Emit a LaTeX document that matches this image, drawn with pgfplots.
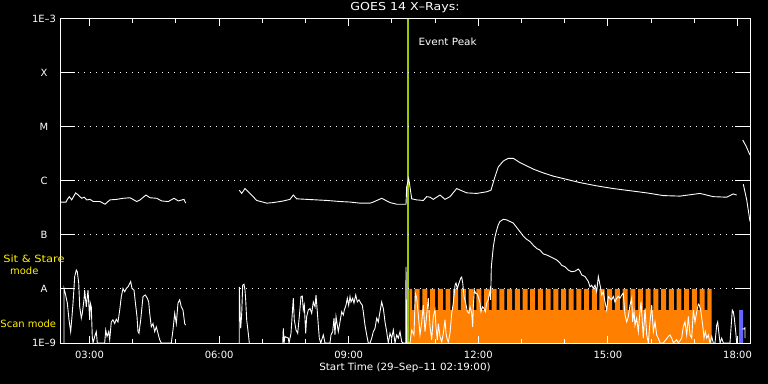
\documentclass[border=0pt]{standalone}
\usepackage{fontspec}
\setmainfont{DejaVu Sans}
\usepackage{pgfplots}
\pgfplotsset{compat=1.18}
\definecolor{scanorange}{RGB}{255,128,0}
\definecolor{peakgreen}{RGB}{153,204,0}
\definecolor{sitblue}{RGB}{102,102,255}
\begin{document}
\begin{tikzpicture}
\fill[black] (0,0) rectangle (768bp,384bp);
\begin{axis}[
 at={(60bp,41bp)}, anchor=south west,
 scale only axis, width=690bp, height=324bp,
 xmin=2.3167, xmax=18.289, ymin=-9, ymax=-3,
 no markers,
 axis on top,
 axis line style={white, line width=1bp},
 tick style={white, line width=1bp},
 major tick length=6.7bp, minor tick length=3.7bp,
 tick align=inside,
 xtick={3,6,9,12,15,18},
 xticklabels={03:00,06:00,09:00,12:00,15:00,18:00},
 minor xtick={4,5,7,8,10,11,13,14,16,17},
 ytick={-9,-8,-7,-6,-5,-4,-3},
 yticklabels={1E–9,A,B,C,M,X,1E–3},
 ymajorgrids,
 grid style={white, line width=1bp, dash pattern=on 1bp off 5bp},
 tick label style={white, font=\fontsize{10}{12}\selectfont},
 xticklabel style={yshift=-5bp},
 yticklabel style={anchor=center, xshift=-16bp},
 title={GOES 14 X–Rays:},
 title style={white, at={(axis description cs:0.5,1)}, anchor=center, yshift=5bp, font=\fontsize{11}{13}\selectfont\addfontfeature{FakeStretch=1.15}},
 xlabel={Start Time (29–Sep–11 02:19:00)},
 xlabel style={white, at={(axis description cs:0.5,0)}, anchor=center, yshift=-25bp, font=\fontsize{10}{12}\selectfont\addfontfeature{FakeStretch=1.04}},
]
% scan mode bars
\addplot[fill=scanorange, draw=none, const plot] coordinates {
(10.402,-9) (10.402,-8)
(10.465,-8.39) (10.528,-8) (10.643,-8.39) (10.706,-8) (10.821,-8.39) (10.884,-8)
(11.000,-8.39) (11.062,-8) (11.178,-8.39) (11.241,-8) (11.356,-8.39) (11.419,-8)
(11.534,-8.39) (11.597,-8) (11.713,-8.39) (11.775,-8) (11.891,-8.39) (11.953,-8)
(12.069,-8.39) (12.132,-8) (12.247,-8.39) (12.310,-8) (12.426,-8.39) (12.488,-8)
(12.604,-8.39) (12.666,-8) (12.782,-8.39) (12.845,-8) (12.960,-8.39) (13.023,-8)
(13.139,-8.39) (13.201,-8) (13.317,-8.39) (13.379,-8) (13.495,-8.39) (13.558,-8)
(13.673,-8.39) (13.736,-8) (13.852,-8.39) (13.914,-8) (14.030,-8.39) (14.093,-8)
(14.208,-8.39) (14.271,-8) (14.386,-8.39) (14.449,-8) (14.565,-8.39) (14.627,-8)
(14.743,-8.39) (14.805,-8) (14.921,-8.39) (14.984,-8) (15.099,-8.39) (15.162,-8)
(15.277,-8.39) (15.340,-8) (15.456,-8.39) (15.518,-8) (15.634,-8.39) (15.697,-8)
(15.812,-8.39) (15.875,-8) (15.990,-8.39) (16.053,-8) (16.169,-8.39) (16.231,-8)
(16.347,-8.39) (16.409,-8) (16.525,-8.39) (16.588,-8) (16.703,-8.39) (16.766,-8)
(16.882,-8.39) (16.944,-8) (17.060,-8.39) (17.122,-8) (17.238,-8.39) (17.301,-8)
(17.402,-9)};
% sit and stare bar
\addplot[fill=sitblue, draw=none, const plot] coordinates {(18.035,-9) (18.035,-8.39) (18.127,-9)};
% event peak line
\addplot[peakgreen, line width=2.3bp] coordinates {(10.365,-9) (10.365,-3)};
% long channel
\addplot[white, line width=0.9bp] coordinates {
(2.333,-6.39) (2.456,-6.39) (2.486,-6.34) (2.532,-6.29) (2.587,-6.35) (2.680,-6.22) (2.740,-6.26) (2.819,-6.32) (2.879,-6.30) (2.935,-6.35) (3.011,-6.34) (3.088,-6.38) (3.243,-6.38) (3.358,-6.43) (3.474,-6.35) (3.629,-6.34) (3.782,-6.32) (3.937,-6.31) (4.092,-6.38) (4.169,-6.35) (4.307,-6.26) (4.400,-6.31) (4.555,-6.32) (4.671,-6.37) (4.824,-6.38) (4.956,-6.32) (5.055,-6.37) (5.187,-6.34) (5.226,-6.41)};
\addplot[white, line width=0.9bp] coordinates {
(6.467,-6.17) (6.523,-6.23) (6.599,-6.14) (6.715,-6.23) (6.870,-6.36) (7.101,-6.41) (7.254,-6.40) (7.486,-6.37) (7.641,-6.34) (7.717,-6.26) (7.796,-6.33) (8.027,-6.34) (8.259,-6.35) (8.490,-6.36) (8.798,-6.38) (9.030,-6.39) (9.261,-6.41) (9.493,-6.41) (9.569,-6.39) (9.763,-6.32) (9.956,-6.40) (10.111,-6.43) (10.326,-6.43) (10.342,-6.11) (10.389,-5.95) (10.458,-6.33) (10.574,-6.35) (10.727,-6.36) (10.805,-6.29) (10.882,-6.30) (10.958,-6.34) (11.113,-6.26) (11.229,-6.34) (11.345,-6.29) (11.499,-6.14) (11.615,-6.18) (11.731,-6.22) (11.962,-6.23) (12.194,-6.20) (12.293,-6.17) (12.386,-5.92) (12.462,-5.74) (12.578,-5.63) (12.694,-5.58) (12.810,-5.58) (12.965,-5.66) (13.120,-5.72) (13.273,-5.78) (13.504,-5.85) (13.736,-5.91) (14.046,-5.97) (14.354,-6.03) (14.740,-6.09) (15.125,-6.14) (15.511,-6.18) (15.898,-6.22) (16.282,-6.27) (16.668,-6.28) (17.131,-6.23) (17.439,-6.29) (17.749,-6.30) (17.902,-6.24) (17.981,-6.26)};
\addplot[white, line width=0.9bp] coordinates {(18.120,-5.24) (18.196,-5.35) (18.289,-5.52)};
\addplot[white, line width=0.9bp] coordinates {(18.134,-6.06) (18.213,-6.35) (18.289,-6.75)};
% short channel
\addplot[white, line width=0.9bp] coordinates {
(2.409,-9) (2.409,-7.99) (2.439,-8.08) (2.486,-8.26) (2.525,-8.57) (2.564,-8.79) (2.594,-8.51) (2.618,-8.26) (2.657,-7.77) (2.694,-7.65) (2.717,-7.68) (2.750,-7.89) (2.773,-8.33) (2.810,-8.54) (2.833,-8.45) (2.872,-8.20) (2.888,-8.02) (2.925,-8.33) (2.965,-8.02) (3.004,-8.57) (3.018,-8.26) (3.041,-8.33) (3.064,-8.88) (3.081,-9) (3.120,-8.88) (3.157,-8.79) (3.180,-9) (3.351,-9) (3.375,-8.76) (3.405,-8.88) (3.444,-8.79) (3.467,-8.94) (3.504,-8.61) (3.543,-8.57) (3.583,-8.64) (3.620,-8.56) (3.659,-8.61) (3.699,-8.39) (3.736,-8.14) (3.775,-7.99) (3.814,-8.05) (3.851,-7.99) (3.891,-7.96) (3.953,-7.86) (3.983,-7.99) (4.030,-8.02) (4.060,-8.24) (4.099,-8.51) (4.122,-8.79) (4.145,-8.82) (4.185,-8.57) (4.238,-8.14) (4.291,-8.11) (4.337,-8.17) (4.370,-8.24) (4.393,-8.45) (4.430,-8.70) (4.469,-8.64) (4.509,-8.79) (4.546,-8.70) (4.585,-8.82) (4.624,-8.94) (4.662,-9) (4.893,-9) (4.932,-8.76) (4.972,-8.45) (5.009,-8.64) (5.048,-8.26) (5.087,-8.20) (5.124,-8.33) (5.164,-8.39) (5.203,-8.64) (5.222,-8.67)};
\addplot[white, line width=0.9bp] coordinates {
(6.467,-9) (6.467,-7.96) (6.483,-8.39) (6.500,-8.73) (6.523,-8.45) (6.546,-7.93) (6.576,-7.91) (6.599,-8.02) (6.615,-8.20) (6.638,-8.57) (6.675,-8.82) (6.699,-9)};
\addplot[white, line width=0.9bp] coordinates {
(7.472,-9) (7.486,-8.73) (7.502,-9) (7.525,-8.88) (7.602,-8.91) (7.618,-9) (7.664,-8.82) (7.694,-8.45) (7.717,-8.17) (7.740,-8.57) (7.780,-8.76) (7.819,-8.82) (7.856,-8.51) (7.895,-8.14) (7.925,-8.13) (7.949,-8.39) (7.972,-8.30) (8.004,-8.82) (8.027,-8.51) (8.064,-8.39) (8.104,-8.36) (8.143,-8.45) (8.180,-8.24) (8.220,-8.33) (8.243,-8.11) (8.273,-8.42) (8.296,-8.67) (8.319,-8.91) (8.352,-9) (8.412,-8.85) (8.451,-9) (8.567,-9) (8.590,-8.85) (8.629,-8.79) (8.659,-8.54) (8.682,-8.85) (8.706,-8.51) (8.736,-8.67) (8.759,-8.79) (8.798,-8.61) (8.837,-8.42) (8.875,-8.48) (8.898,-8.39) (8.937,-8.30) (8.967,-8.17) (8.999,-8.30) (9.030,-8.14) (9.053,-8.24) (9.092,-8.17) (9.122,-8.26) (9.162,-8.11) (9.199,-8.24) (9.238,-8.20) (9.277,-8.26) (9.314,-8.30) (9.337,-8.42) (9.377,-8.67) (9.416,-8.85) (9.453,-9) (9.493,-9) (9.532,-8.91) (9.569,-8.79) (9.608,-8.73) (9.648,-8.54) (9.685,-8.61) (9.724,-8.42) (9.763,-8.24) (9.801,-8.36) (9.840,-8.61) (9.879,-8.79) (9.916,-9) (9.956,-8.82) (9.995,-8.91) (10.032,-8.76) (10.071,-9) (10.111,-8.85) (10.148,-8.91) (10.187,-8.79) (10.227,-8.98) (10.264,-9) (10.319,-9) (10.326,-7.59) (10.342,-9) (10.418,-9) (10.458,-8.76) (10.511,-8.85) (10.541,-8.08) (10.574,-8.17) (10.611,-8.48) (10.650,-8.85) (10.690,-8.61) (10.727,-8.30) (10.766,-8.79) (10.805,-8.48) (10.842,-8.17) (10.882,-8.70) (10.921,-8.94) (10.958,-8.51) (10.997,-8.39) (11.020,-8.70) (11.051,-8.94) (11.074,-8.64) (11.113,-8.88) (11.153,-8.98) (11.190,-8.82) (11.229,-8.57) (11.252,-8.82) (11.282,-8.94) (11.305,-8.98) (11.345,-8.82) (11.384,-8.45) (11.421,-8.26) (11.461,-7.93) (11.484,-7.89) (11.514,-7.99) (11.553,-7.89) (11.592,-7.80) (11.615,-7.78) (11.639,-7.89) (11.669,-8.14) (11.708,-8.26) (11.745,-8.42) (11.785,-8.45) (11.808,-8.33) (11.847,-8.45) (11.870,-8.70) (11.884,-8.33) (11.907,-8.02) (11.939,-8.08) (11.962,-8.08) (11.999,-8.14) (12.039,-8.26) (12.062,-8.42) (12.101,-8.33) (12.131,-8.36) (12.162,-8.42) (12.194,-8.26) (12.231,-8.20) (12.270,-8.02) (12.286,-8.20) (12.301,-7.59) (12.317,-7.46) (12.347,-7.22) (12.386,-7.03) (12.425,-6.91) (12.462,-6.81) (12.502,-6.75) (12.578,-6.71) (12.657,-6.72) (12.733,-6.75) (12.810,-6.78) (12.888,-6.86) (12.965,-6.94) (13.041,-7.02) (13.120,-7.08) (13.196,-7.12) (13.273,-7.19) (13.352,-7.25) (13.428,-7.28) (13.504,-7.35) (13.583,-7.37) (13.659,-7.40) (13.736,-7.43) (13.814,-7.46) (13.891,-7.52) (13.930,-7.56) (14.007,-7.59) (14.083,-7.65) (14.162,-7.68) (14.238,-7.67) (14.315,-7.63) (14.354,-7.67) (14.393,-7.74) (14.470,-7.77) (14.546,-7.86) (14.585,-7.96) (14.625,-7.93) (14.662,-7.99) (14.701,-7.93) (14.740,-8.05) (14.778,-7.77) (14.801,-7.86) (14.833,-7.99) (14.856,-8.11) (14.893,-8.05) (14.932,-8.24) (14.972,-8.39) (15.009,-8.14) (15.048,-8.17) (15.087,-8.20) (15.125,-8.14) (15.164,-8.24) (15.203,-8.17) (15.240,-8.14) (15.280,-8.17) (15.319,-8.11) (15.356,-8.08) (15.396,-8.48) (15.435,-8.61) (15.472,-8.51) (15.511,-8.30) (15.550,-8.17) (15.573,-8.61) (15.604,-8.42) (15.627,-8.67) (15.666,-8.54) (15.703,-8.79) (15.743,-8.42) (15.766,-8.24) (15.796,-8.61) (15.819,-8.91) (15.859,-8.36) (15.898,-8.85) (15.935,-9) (15.974,-8.61) (16.014,-8.30) (16.051,-8.79) (16.090,-8.61) (16.129,-8.85) (16.166,-8.91) (16.206,-9) (16.282,-9) (16.398,-8.88) (16.437,-8.85) (16.477,-8.91) (16.514,-9) (16.592,-8.94) (16.629,-9) (16.708,-8.91) (16.745,-8.70) (16.784,-8.61) (16.824,-8.85) (16.861,-8.51) (16.900,-8.85) (16.940,-8.91) (16.977,-8.39) (17.016,-8.61) (17.056,-8.42) (17.093,-8.28) (17.116,-8.30) (17.148,-8.39) (17.171,-8.54) (17.194,-8.67) (17.224,-8.91) (17.254,-8.79) (17.287,-8.91) (17.324,-8.85) (17.363,-9) (17.403,-8.88) (17.440,-9) (17.479,-9) (17.518,-8.67) (17.541,-8.61) (17.565,-8.79) (17.595,-9) (17.634,-8.91) (17.671,-9) (17.826,-9) (17.849,-8.73) (17.879,-8.39) (17.902,-8.42) (17.926,-8.54) (17.958,-8.79) (17.981,-9)};
\addplot[white, line width=0.9bp] coordinates {(18.109,-8.74) (18.148,-8.74) (18.172,-8.72) (18.172,-8.91)};
\node[white, anchor=west, inner sep=0pt, font=\fontsize{10}{12}\selectfont\addfontfeature{FakeStretch=1.05}] at (axis cs:10.611,-3.43) {Event Peak};
\end{axis}
% overlay axis: long class ticks on both sides of the y axis
\begin{axis}[
 at={(60bp,41bp)}, anchor=south west,
 scale only axis, width=690bp, height=324bp,
 xmin=2.3167, xmax=18.289, ymin=-9, ymax=-3,
 axis line style={draw=none},
 xtick=\empty,
 ytick={-8,-7,-6,-5,-4},
 yticklabels={},
 major tick length=15bp,
 tick style={white, line width=1bp},
 tick align=inside,
]
\end{axis}
\node[yellow, inner sep=0pt, font=\fontsize{10}{12}\selectfont\addfontfeature{FakeStretch=1.15}] at (34bp,125bp) {Sit \& Stare};
\node[yellow, inner sep=0pt, font=\fontsize{10}{12}\selectfont] at (24.3bp,113bp) {mode};
\node[yellow, inner sep=0pt, font=\fontsize{10}{12}\selectfont] at (28.3bp,60.5bp) {Scan mode};
\pgfresetboundingbox
\useasboundingbox (0,0) rectangle (768bp,384bp);
\end{tikzpicture}
\end{document}
